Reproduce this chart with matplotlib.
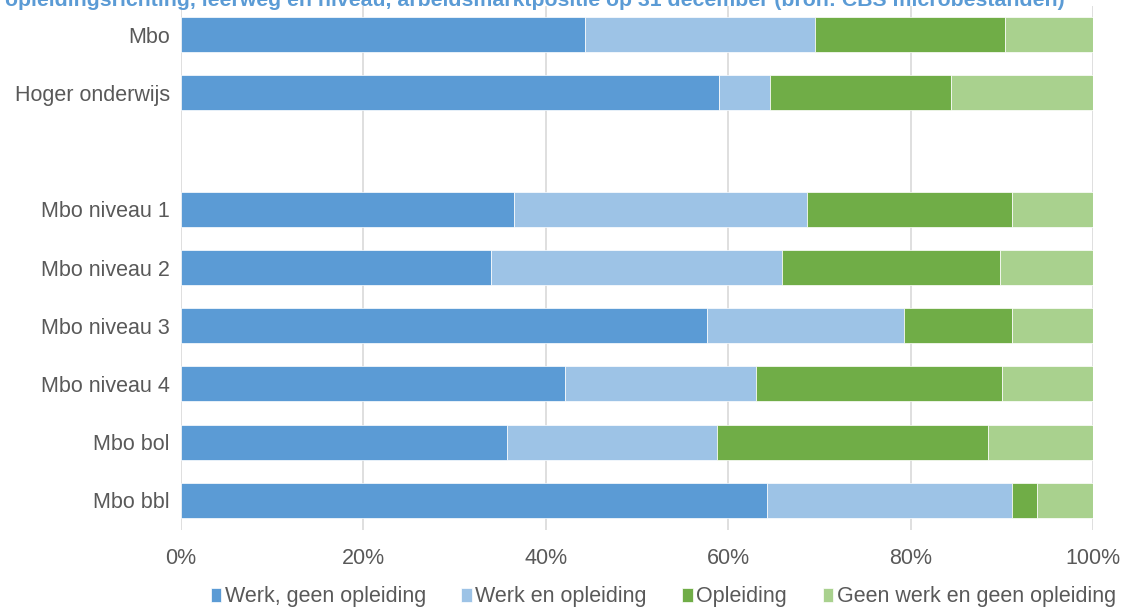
import numpy as np
import matplotlib.pyplot as plt

plt.rcParams['font.family'] = ['Liberation Sans', 'DejaVu Sans']

# categorieen (van boven naar beneden), lege rij als scheiding
categorieen = ["Mbo", "Hoger onderwijs", "", "Mbo niveau 1", "Mbo niveau 2",
               "Mbo niveau 3", "Mbo niveau 4", "Mbo bol", "Mbo bbl"]

werk_geen_opl = [44.3, 59.0, 0, 36.5, 34.0, 57.7, 42.1, 35.8, 64.2]
werk_en_opl = [25.2, 5.6, 0, 32.1, 31.9, 21.6, 21.0, 23.0, 26.9]
opleiding = [20.9, 19.8, 0, 22.5, 23.9, 11.8, 26.9, 29.7, 2.8]
geen_werk = [9.6, 15.6, 0, 8.9, 10.2, 8.9, 10.0, 11.5, 6.1]

reeksen = ["Werk, geen opleiding", "Werk en opleiding", "Opleiding",
           "Geen werk en geen opleiding"]
kleuren = ["#5B9BD5", "#9DC3E6", "#70AD47", "#A9D18E"]

titel = ("opleidingsrichting, leerweg en niveau, arbeidsmarktpositie op 31 december "
         "(bron: CBS microbestanden)")

fig = plt.figure(figsize=(11.26, 6.08), dpi=100)
ax = fig.add_axes([181/1126, 1-529.5/608, 912/1126, 524/608])

y = np.arange(len(categorieen))
gevuld = np.array([c != "" for c in categorieen])  # lege rij niet tekenen
links = np.zeros(len(categorieen))
for waarden, naam, kleur in zip([werk_geen_opl, werk_en_opl, opleiding, geen_werk],
                                reeksen, kleuren):
    w = np.array(waarden)
    ax.barh(y[gevuld], w[gevuld], left=links[gevuld], height=0.6, color=kleur,
            label=naam, edgecolor="white", linewidth=0.5, zorder=3)
    links += w

ax.set_xlim(0, 100)
ax.set_ylim(len(categorieen) - 0.5, -0.5)
ax.set_xticks(np.arange(0, 101, 20))
ax.set_xticklabels([f"{v}%" for v in range(0, 101, 20)])
ax.set_yticks(y)
ax.set_yticklabels(categorieen)
ax.tick_params(length=0, labelsize=15.5, labelcolor="#595959")
ax.tick_params(axis="x", pad=13)
ax.tick_params(axis="y", pad=8)
ax.xaxis.grid(True, color="#D9D9D9", linewidth=1.2, zorder=0)
for s in ax.spines.values():
    s.set_visible(False)

fig.legend(loc="lower center", bbox_to_anchor=(0.589, -0.031), ncol=4, frameon=False,
           fontsize=15.5, labelcolor="#595959", handlelength=0.5, handleheight=0.6,
           handletextpad=0.15, columnspacing=1.65)

fig.text(0.004, 1.0, titel, color="#5B9BD5", fontsize=15.3, fontweight="bold",
         va="center", ha="left")

fig.savefig("out.png", dpi=100)
